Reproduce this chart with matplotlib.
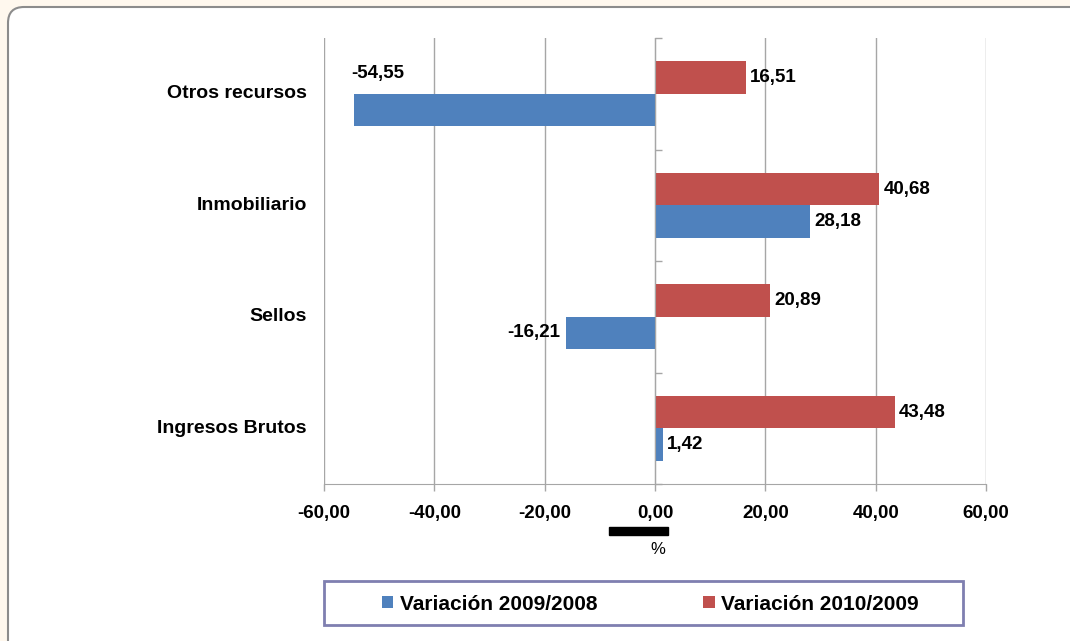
import numpy as np
import matplotlib
matplotlib.use("Agg")
import matplotlib.pyplot as plt
from matplotlib.patches import FancyBboxPatch, Rectangle
from matplotlib.ticker import FuncFormatter

# data
categories = ["Ingresos Brutos", "Sellos", "Inmobiliario", "Otros recursos"]
var_2009_2008 = [1.42, -16.21, 28.18, -54.55]
var_2010_2009 = [43.48, 20.89, 40.68, 16.51]
series_names = ["Variación 2009/2008", "Variación 2010/2009"]
x_ticks = [-60, -40, -20, 0, 20, 40, 60]

blue = "#4F81BD"
red = "#C0504D"
grid_c = "#A6A6A6"

plt.rcParams["font.family"] = ["Liberation Sans", "DejaVu Sans"]

W, H = 1070, 641
fig = plt.figure(figsize=(W / 100, H / 100), dpi=100)
fig.patch.set_facecolor("#FFF8EE")

# rounded white panel
panel = FancyBboxPatch((8 / 100, -1.0), 12, H / 100 - 0.07 + 1.0,
                       boxstyle="round,pad=0,rounding_size=0.16",
                       transform=fig.dpi_scale_trans, facecolor="white",
                       edgecolor="#8C8C8C", linewidth=1.5, zorder=-5)
fig.patches.append(panel)

ax = fig.add_axes([324 / W, 1 - 484 / H, (986 - 324) / W, (484 - 38) / H])
ax.patch.set_alpha(0)

y = np.arange(len(categories))
h = 0.29
off = 0.145
b1 = ax.barh(y - off, var_2009_2008, height=h, color=blue, zorder=3)
b2 = ax.barh(y + off, var_2010_2009, height=h, color=red, zorder=3)

fmt = lambda v: f"{v:.2f}".replace(".", ",")
lab_kw = dict(fontsize=13.5, fontweight="bold", textcoords="offset points", va="center")

for i, v in enumerate(var_2010_2009):
    ax.annotate(fmt(v), (v, y[i] + off), xytext=(3, 0), ha="left", **lab_kw)
for i, v in enumerate(var_2009_2008):
    if i == 3:
        # label moved above the bar in the original
        ax.annotate(fmt(v), (v, y[i] + off), xytext=(-2, 3), ha="left", **lab_kw)
    elif v < 0:
        ax.annotate(fmt(v), (v, y[i] - off), xytext=(-4, 0), ha="right", **lab_kw)
    else:
        ax.annotate(fmt(v), (v, y[i] - off), xytext=(3, 0), ha="left", **lab_kw)

ax.set_xlim(-60, 60)
ax.set_ylim(-0.5, len(categories) - 0.5)
ax.set_xticks(x_ticks)
ax.xaxis.set_major_formatter(FuncFormatter(lambda v, p: fmt(v)))
ax.tick_params(axis="x", length=5, width=1, color=grid_c, pad=10, labelsize=13.5)
for t in ax.get_xticklabels():
    t.set_fontweight("bold")
ax.grid(axis="x", color=grid_c, linewidth=1, zorder=0)

ax.spines["top"].set_visible(False)
ax.spines["right"].set_visible(False)
ax.spines["bottom"].set_color(grid_c)
ax.spines["left"].set_color(grid_c)
ax.spines["left"].set_position(("data", 0))
ax.spines["left"].set_zorder(4)
ax.set_yticks(np.arange(len(categories) + 1) - 0.5)
ax.set_yticklabels([])
ax.tick_params(axis="y", direction="in", length=5, width=1, color=grid_c)

for i, c in enumerate(categories):
    ax.text(-0.026, y[i], c, transform=ax.get_yaxis_transform(), ha="right",
            va="center", fontsize=14, fontweight="bold")

# black mark and axis unit
fig.patches.append(Rectangle((609 / W, 1 - 535 / H), 59 / W, 8 / H,
                             transform=fig.transFigure, color="black", zorder=5))
fig.text(658 / W, 1 - 550 / H, "%", ha="center", va="center", fontsize=12)

# legend box
fig.patches.append(Rectangle((324 / W, 1 - 625 / H), (963 - 324) / W, 44 / H,
                             transform=fig.transFigure, facecolor="white",
                             edgecolor="#7F7FB0", linewidth=2, zorder=1))
leg = fig.legend(handles=[b1, b2], labels=series_names, ncol=2,
                 loc="center left", bbox_to_anchor=(382 / W, 1 - 604 / H),
                 prop={"weight": "bold", "size": 15}, frameon=False,
                 handlelength=0.55, handleheight=0.55, handletextpad=0.3,
                 columnspacing=5.1, borderpad=0, borderaxespad=0)
leg.set_zorder(6)

fig.savefig("out.png", dpi=100, facecolor=fig.get_facecolor())
